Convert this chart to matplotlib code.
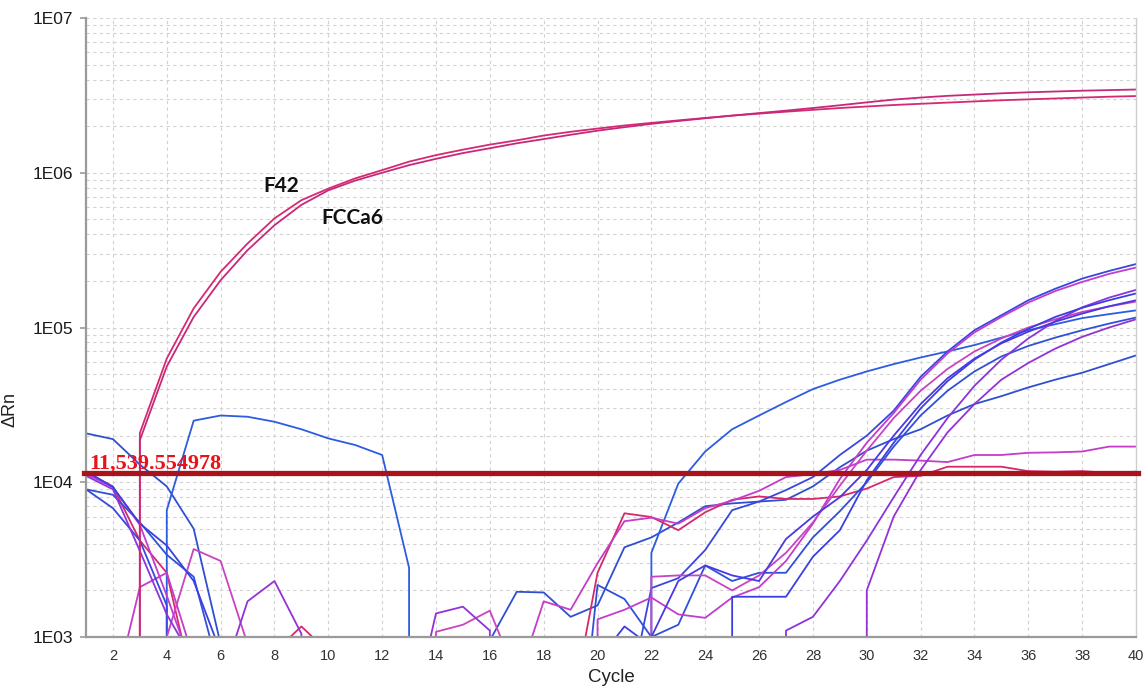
import matplotlib
matplotlib.use("Agg")
import matplotlib.pyplot as plt
from matplotlib.ticker import FixedLocator, NullFormatter

plt.rcParams["font.family"] = ["Liberation Sans", "DejaVu Sans"]

# Cycle numbers (x axis)
cycles = list(range(1, 41))

# Delta Rn per cycle for each well. Negative values are baseline noise
# below zero; on the log axis they drop straight off the bottom.
f42 = [-600, -500, 2.08e4, 6.3e4, 1.33e5, 2.29e5, 3.49e5, 5.07e5, 6.65e5, 7.9e5,
       9.2e5, 1.04e6, 1.18e6, 1.3e6, 1.41e6, 1.52e6, 1.62e6, 1.74e6, 1.84e6, 1.93e6,
       2.02e6, 2.1e6, 2.18e6, 2.26e6, 2.34e6, 2.41e6, 2.48e6, 2.55e6, 2.62e6, 2.68e6,
       2.74e6, 2.79e6, 2.84e6, 2.89e6, 2.94e6, 2.98e6, 3.02e6, 3.06e6, 3.1e6, 3.13e6]
fcca6 = [-500, -700, 1.87e4, 5.6e4, 1.17e5, 2.02e5, 3.16e5, 4.58e5, 6.2e5, 7.7e5,
         8.9e5, 1.0e6, 1.12e6, 1.23e6, 1.34e6, 1.44e6, 1.55e6, 1.65e6, 1.76e6, 1.87e6,
         1.97e6, 2.07e6, 2.16e6, 2.25e6, 2.34e6, 2.43e6, 2.52e6, 2.62e6, 2.73e6, 2.85e6,
         2.97e6, 3.06e6, 3.14e6, 3.2e6, 3.26e6, 3.31e6, 3.35e6, 3.39e6, 3.42e6, 3.45e6]

w01 = [2.07e4, 1.9e4, 1.3e4, 9.4e3, 5.0e3, 900, -400, -600, -500, -700,
       -450, -600, -800, -500, -650, 950, 1.96e3, 1.94e3, 1.35e3, 1.6e3,
       3.8e3, 4.4e3, 5.5e3, 7.0e3, 7.3e3, 7.5e3, 7.7e3, 9.4e3, 1.25e4, 1.6e4,
       1.9e4, 2.2e4, 2.7e4, 3.2e4, 3.6e4, 4.1e4, 4.6e4, 5.1e4, 5.8e4, 6.6e4]
w02 = [-500, -700, -600, 6.6e3, 2.5e4, 2.7e4, 2.65e4, 2.46e4, 2.2e4, 1.92e4,
       1.74e4, 1.5e4, 2.8e3, -600, -500, -800, -700, -650, -500, -900,
       -700, 3.5e3, 9.8e3, 1.58e4, 2.2e4, 2.7e4, 3.3e4, 4.0e4, 4.6e4, 5.2e4,
       5.8e4, 6.4e4, 7.0e4, 7.7e4, 8.6e4, 9.6e4, 1.05e5, 1.15e5, 1.22e5, 1.29e5]
w03 = [1.16e4, 9.4e3, 4.2e3, 2.6e3, 460, -500, -700, 800, 1.17e3, 800,
       -600, -500, -700, -800, -600, -500, -700, -600, 310, 2.6e3,
       6.3e3, 5.96e3, 4.9e3, 6.4e3, 7.7e3, 8.1e3, 7.8e3, 7.8e3, 8.1e3, 9.1e3,
       1.08e4, 1.1e4, 1.26e4, 1.26e4, 1.26e4, 1.18e4, 1.17e4, 1.18e4, 1.15e4, 1.17e4]
w04 = [-600, 400, 2.1e3, 2.6e3, 720, -700, -500, -600, -800, -700,
       -500, -600, -700, -900, -500, -600, 500, 1.7e3, 1.5e3, 3.0e3,
       5.6e3, 5.9e3, 5.4e3, 6.8e3, 7.6e3, 8.8e3, 1.08e4, 1.13e4, 1.2e4, 1.4e4,
       1.4e4, 1.38e4, 1.35e4, 1.5e4, 1.5e4, 1.55e4, 1.56e4, 1.58e4, 1.7e4, 1.7e4]
w05 = [9.0e3, 8.3e3, 5.5e3, 3.4e3, 2.45e3, 550, -500, -600, -700, -800,
       -500, -600, -700, -900, -500, -600, -700, -800, 50, 2.17e3,
       1.76e3, 1.0e3, 1.2e3, 2.9e3, 2.3e3, 2.6e3, 2.6e3, 4.4e3, 6.5e3, 1.0e4,
       1.7e4, 2.7e4, 3.9e4, 5.2e4, 6.5e4, 7.6e4, 8.6e4, 9.6e4, 1.06e5, 1.16e5]
w06 = [9.0e3, 6.8e3, 4.2e3, 1.6e3, -500, -600, -700, -800, -500, -600,
       -700, -900, -500, -600, -700, -800, -600, -500, -700, -600,
       300, 2.07e3, 2.4e3, 3.65e3, 6.6e3, 7.5e3, 8.9e3, 1.08e4, 1.5e4, 2.0e4,
       2.9e4, 4.8e4, 7.0e4, 9.6e4, 1.2e5, 1.5e5, 1.78e5, 2.07e5, 2.32e5, 2.57e5]
w07 = [1.13e4, 9.3e3, 5.3e3, 1.85e3, 600, -700, -500, -600, -800, -700,
       -500, -600, -700, -900, -500, -600, -700, -800, -500, 1.3e3,
       1.5e3, 1.8e3, 1.4e3, 1.33e3, 1.8e3, 2.1e3, 3.1e3, 5.4e3, 1.05e4, 1.8e4,
       2.8e4, 4.6e4, 6.8e4, 9.3e4, 1.17e5, 1.45e5, 1.72e5, 1.97e5, 2.22e5, 2.44e5]
w08 = [-500, -600, -700, 1000, 3.7e3, 3.1e3, 900, -500, -600, -700,
       -800, -500, -600, 1.08e3, 1.2e3, 1.48e3, 550, -700, -500, -600,
       -800, 2.45e3, 2.5e3, 2.5e3, 2.0e3, 2.5e3, 3.5e3, 5.5e3, 9.5e3, 1.6e4,
       2.6e4, 3.9e4, 5.4e4, 7.0e4, 8.5e4, 1.0e5, 1.13e5, 1.26e5, 1.37e5, 1.47e5]
w09 = [1.1e4, 9.0e3, 3.6e3, 1.4e3, 700, -500, -600, -700, -800, -500,
       -600, -700, -900, -500, -600, -700, -800, -500, -600, -700,
       -500, -600, -800, -700, -500, -600, 1.1e3, 1.35e3, 2.3e3, 4.2e3,
       8.0e3, 1.5e4, 2.6e4, 4.2e4, 6.2e4, 8.5e4, 1.1e5, 1.35e5, 1.56e5, 1.75e5]
w10 = [1.18e4, 9.3e3, 5.4e3, 3.9e3, 2.3e3, 800, -500, -600, -700, -800,
       -500, -600, -700, -900, -500, -600, -700, -800, -500, 700,
       1.17e3, 870, -600, -500, 1.82e3, 1.82e3, 1.82e3, 3.3e3, 4.9e3, 1.03e4,
       1.8e4, 3.0e4, 4.5e4, 6.2e4, 8.0e4, 9.8e4, 1.17e5, 1.34e5, 1.5e5, 1.66e5]
w11 = [-500, -600, -700, -800, -500, -600, -700, -900, -500, -600,
       -700, -800, -500, -600, -700, -800, -500, -600, -700, -800,
       -600, 1000, 2.3e3, 2.9e3, 2.5e3, 2.3e3, 4.3e3, 6.0e3, 8.0e3, 1.2e4,
       2.0e4, 3.2e4, 4.7e4, 6.3e4, 7.9e4, 9.4e4, 1.09e5, 1.23e5, 1.37e5, 1.5e5]
w12 = [-500, -600, -700, -800, -500, 500, 1.7e3, 2.3e3, 1.05e3, -600,
       -700, -500, 250, 1.42e3, 1.57e3, 1.1e3, -600, -700, -500, -600,
       -800, -700, -500, -600, -700, -800, -500, -600, -700, 2.0e3,
       6.0e3, 1.2e4, 2.1e4, 3.2e4, 4.6e4, 5.9e4, 7.3e4, 8.7e4, 1.0e5, 1.13e5]

threshold = 11539.554978
y_ticks = [1e3, 1e4, 1e5, 1e6, 1e7]
y_tick_labels = ["1E03", "1E04", "1E05", "1E06", "1E07"]
x_ticks = list(range(2, 41, 2))

# line colours, blue -> violet -> magenta like the instrument software
sample_wells = [
    (w01, "#2f4fd2"), (w02, "#2c5ce0"), (w03, "#d42a6a"), (w04, "#c43cc8"),
    (w05, "#3050d8"), (w06, "#3848dc"), (w07, "#c23cd2"), (w08, "#c844c0"),
    (w09, "#8c34dc"), (w10, "#3a40e0"), (w11, "#4a38e0"), (w12, "#9432d6"),
]
positive_wells = [(f42, "#d42a72"), (fcca6, "#c8287a")]


def draw_amplification_plot(out_path="out.png"):
    """Amplification plot: delta Rn vs cycle on a log axis"""
    fig = plt.figure(figsize=(11.48, 6.98), dpi=100)
    ax = fig.add_axes([86 / 1148, 61 / 698, 1050 / 1148, 619 / 698])

    for values, color in sample_wells:
        ax.plot(cycles, values, color=color, lw=1.3)
    for values, color in positive_wells:
        ax.plot(cycles, values, color=color, lw=1.3)

    ax.set_yscale("log")
    ax.set_ylim(1e3, 1e7)
    ax.set_xlim(1, 40)

    # ticks and grid
    ax.set_yticks(y_ticks)
    ax.set_yticklabels(y_tick_labels)
    minor = [m * d for d in y_ticks[:-1] for m in range(2, 10)]
    ax.yaxis.set_minor_locator(FixedLocator(minor))
    ax.yaxis.set_minor_formatter(NullFormatter())
    ax.set_xticks(x_ticks)
    ax.tick_params(axis="y", which="major", length=4, width=1.2, color="#999999",
                   labelsize=12.5, labelcolor="#1a1a1a", pad=5)
    ax.tick_params(axis="y", which="minor", length=0)
    ax.tick_params(axis="x", length=0, labelsize=10.5, labelcolor="#333333", pad=9)

    ax.grid(True, which="both", axis="y", color="#d2d2d2", lw=0.8, linestyle=(0, (3, 3)))
    ax.grid(True, which="major", axis="x", color="#d2d2d2", lw=0.8, linestyle=(0, (3, 3)))
    ax.set_axisbelow(True)

    for side in ("left", "bottom"):
        ax.spines[side].set_color("#9a9a9a")
        ax.spines[side].set_linewidth(1.6)
    ax.spines["right"].set_color("#cfcfcf")
    ax.spines["right"].set_linewidth(1.0)
    ax.spines["top"].set_visible(False)

    # threshold
    ax.axhline(threshold, xmin=-0.002, xmax=1.002, color="#a8141c", lw=3.8,
               clip_on=False, zorder=5)
    ax.annotate(f"{threshold:,.6f}", xy=(1.11, threshold), xytext=(0, 3),
                textcoords="offset points", va="baseline", ha="left",
                fontsize=16, fontweight="bold", color="#e8121a",
                fontfamily="Liberation Serif", zorder=6)

    # sample names
    ax.text(8.26, 8.27e5, "F42", ha="center", va="center", fontsize=15,
            fontweight="bold", fontfamily="Lato", color="#111111")
    ax.text(10.91, 5.09e5, "FCCa6", ha="center", va="center", fontsize=15,
            fontweight="bold", fontfamily="Lato", color="#111111")

    ax.set_xlabel("Cycle", fontsize=13.5, color="#222222", labelpad=4)
    ax.set_ylabel("\u0394Rn", fontsize=13, color="#222222")
    ax.yaxis.set_label_coords(-0.064, 0.367)

    fig.savefig(out_path, dpi=100)
    plt.close(fig)


if __name__ == "__main__":
    draw_amplification_plot("out.png")
